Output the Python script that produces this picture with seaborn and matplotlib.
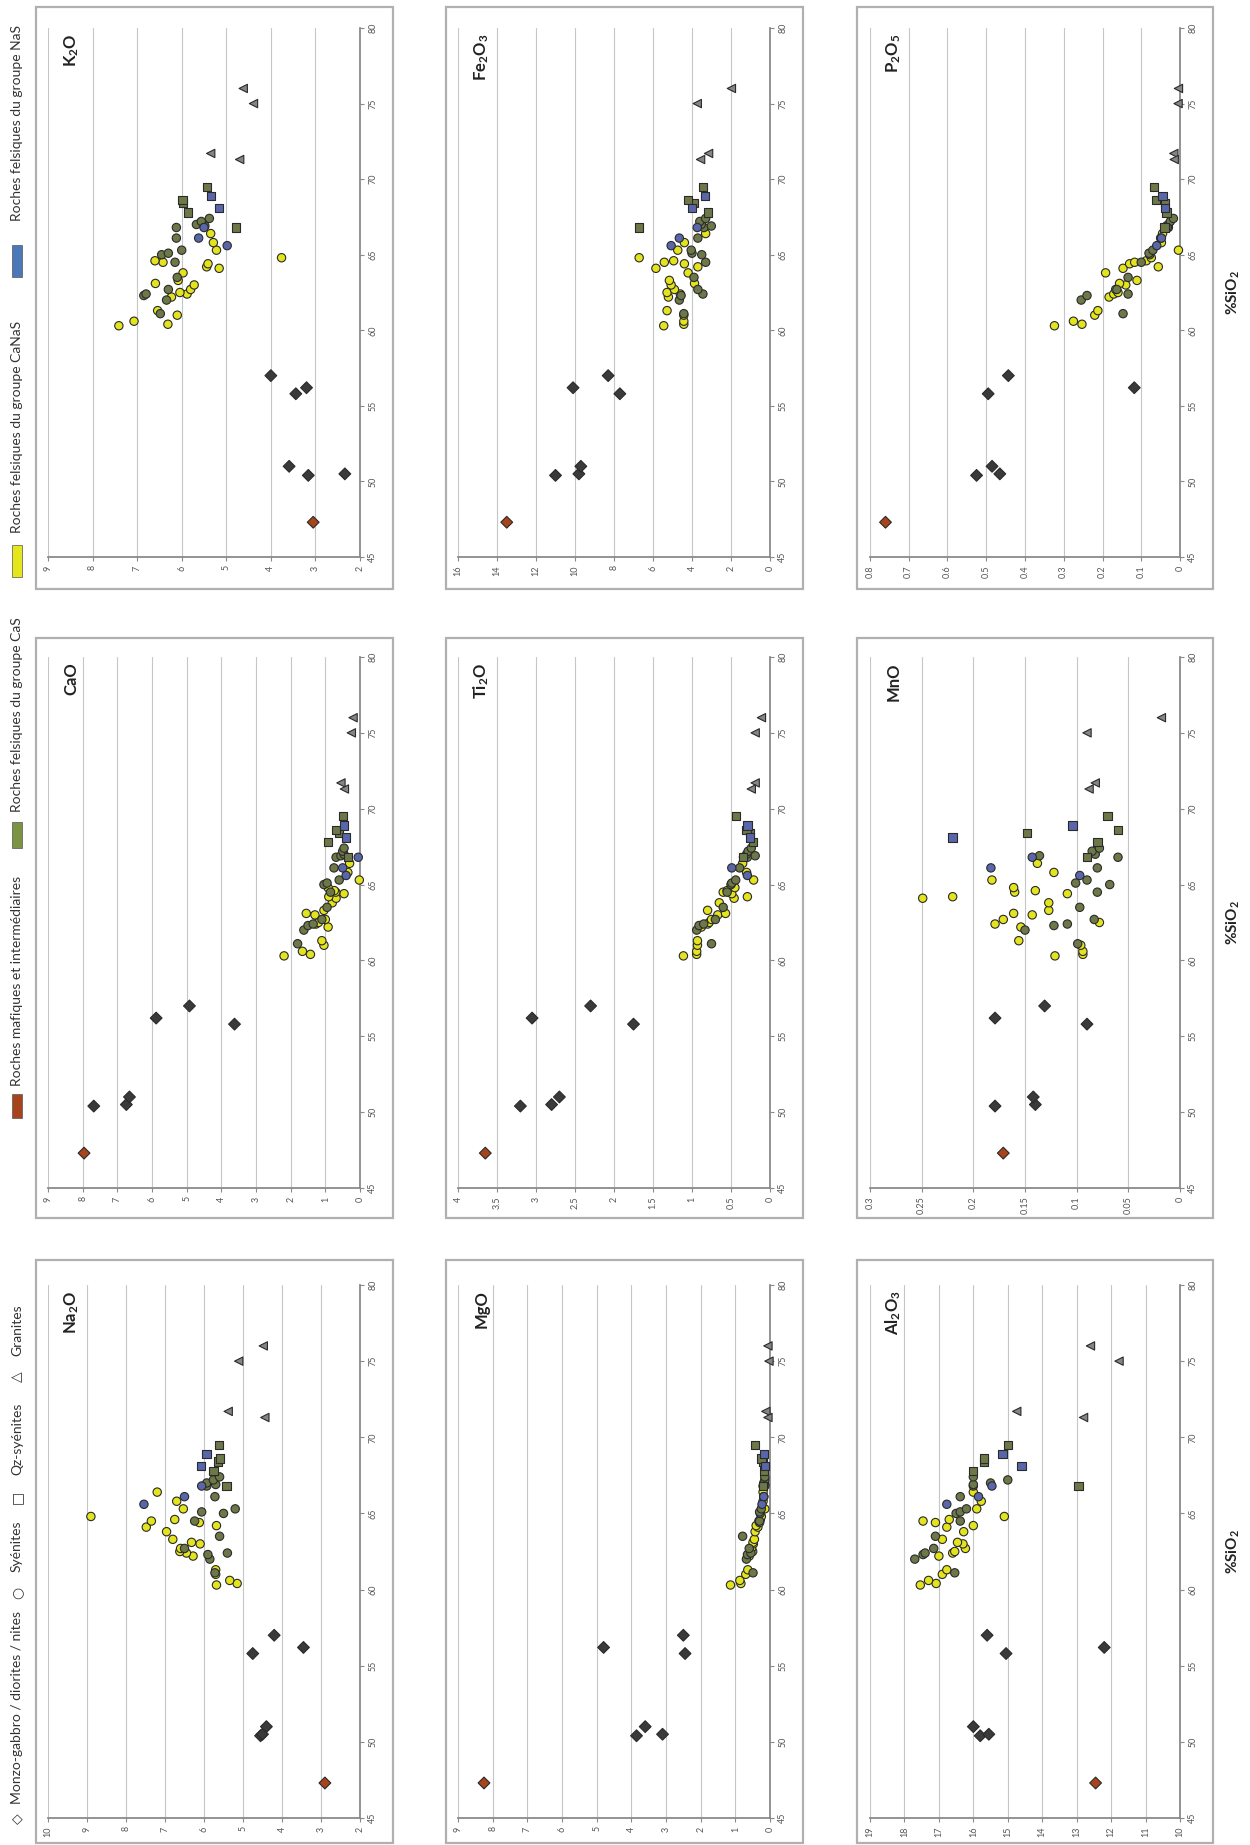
import numpy as np
import pandas as pd
import seaborn as sns
import matplotlib.pyplot as plt
from matplotlib.patches import Rectangle
from matplotlib.ticker import FuncFormatter, MultipleLocator

# ---- data ----
# sample order: 7 mafic, 4 granites, 22 yellow syenites, 16 green syenites,
# 3 blue syenites, 5 green qz-syenites, 2 blue qz-syenites
sio2 = [47.3, 50.4, 50.5, 51.0, 55.8, 56.2, 57.0,
        76.0, 75.0, 71.7, 71.3,
        60.3, 60.4, 60.6, 61.0, 61.3, 62.2, 62.4, 62.5, 62.7, 63.0, 63.1,
        63.3, 63.8, 64.1, 64.2, 64.4, 64.5, 64.6, 64.8, 65.3, 65.8, 66.4,
        61.1, 62.0, 62.3, 62.4, 62.7, 63.5, 64.5, 65.0, 65.1, 65.3, 66.1,
        66.8, 66.9, 67.0, 67.2, 67.4,
        65.6, 66.1, 66.8,
        66.8, 67.8, 68.4, 68.6, 69.5,
        68.1, 68.9]
rock = ["diorite"] * 7 + ["granite"] * 4 + ["syenite"] * 41 + ["qz"] * 7
group = (["maf_r"] + ["maf"] * 6 + ["gra"] * 4 + ["CaNaS"] * 22 + ["CaS"] * 16
         + ["NaS"] * 3 + ["CaS"] * 5 + ["NaS"] * 2)

k2o = [3.05, 3.16, 2.34, 3.59, 3.44, 3.2, 4.0,
       4.62, 4.39, 5.35, 4.7,
       7.41, 6.31, 7.07, 6.1, 6.54, 6.23, 5.88, 6.04, 5.8, 5.72, 6.59,
       6.08, 5.97, 5.16, 5.44, 5.41, 6.42, 6.6, 3.76, 5.22, 5.29, 5.35,
       6.48, 6.34, 6.85, 6.8, 6.3, 6.1, 6.15, 6.45, 6.3, 6.0, 6.12,
       6.12, 5.48, 5.67, 5.56, 5.38,
       4.98, 5.62, 5.5,
       4.78, 5.86, 5.97, 5.98, 5.43,
       5.17, 5.35]
na2o = [2.9, 4.55, 4.5, 4.4, 4.75, 3.45, 4.2,
        4.48, 5.11, 5.38, 4.44,
        5.68, 5.15, 5.34, 5.7, 5.7, 6.28, 6.45, 6.62, 6.6, 6.1, 6.32,
        6.8, 6.96, 7.48, 5.68, 6.12, 7.35, 6.75, 8.9, 6.53, 6.7, 7.2,
        5.72, 5.85, 5.9, 5.4, 6.5, 5.6, 6.24, 5.5, 6.06, 5.2, 5.72,
        5.93, 5.7, 5.93, 5.76, 5.6,
        7.54, 6.5, 6.06,
        5.42, 5.76, 5.64, 5.59, 5.62,
        6.08, 5.94]
cao = [7.96, 7.68, 6.74, 6.65, 3.62, 5.88, 4.92,
       0.2, 0.25, 0.55, 0.45,
       2.19, 1.43, 1.66, 1.04, 1.1, 0.92, 1.27, 1.2, 1.0, 1.3, 1.55,
       1.04, 0.8, 0.69, 0.9, 0.46, 0.7, 0.74, 0.92, 0.02, 0.35, 0.3,
       1.8, 1.62, 1.5, 1.35, 1.1, 0.95, 0.85, 1.04, 0.95, 0.6, 0.75,
       0.69, 0.55, 0.46, 0.5, 0.46,
       0.4, 0.5, 0.05,
       0.35, 0.92, 0.6, 0.69, 0.5,
       0.41, 0.46]
mgo = [8.25, 3.85, 3.1, 3.6, 2.45, 4.8, 2.5,
       0.06, 0.03, 0.12, 0.06,
       1.14, 0.84, 0.87, 0.7, 0.64, 0.6, 0.58, 0.5, 0.53, 0.48, 0.49,
       0.45, 0.43, 0.35, 0.4, 0.3, 0.32, 0.28, 0.25, 0.15, 0.2, 0.2,
       0.49, 0.68, 0.65, 0.55, 0.6, 0.79, 0.3, 0.28, 0.3, 0.25, 0.18,
       0.2, 0.15, 0.18, 0.15, 0.15,
       0.23, 0.18, 0.15,
       0.2, 0.18, 0.2, 0.25, 0.43,
       0.15, 0.18]
ti2o = [3.65, 3.2, 2.8, 2.7, 1.75, 3.05, 2.3,
        0.11, 0.19, 0.19, 0.24,
        1.11, 0.94, 0.94, 0.93, 0.93, 0.88, 0.8, 0.78, 0.75, 0.67, 0.57,
        0.8, 0.65, 0.46, 0.29, 0.49, 0.6, 0.55, 0.45, 0.21, 0.3, 0.35,
        0.75, 0.94, 0.91, 0.85, 0.7, 0.6, 0.55, 0.5, 0.49, 0.44, 0.39,
        0.29, 0.19, 0.3, 0.28, 0.24,
        0.29, 0.49, 0.34,
        0.35, 0.22, 0.26, 0.3, 0.44,
        0.26, 0.29]
fe2o3 = [13.5, 11.0, 9.8, 9.7, 7.7, 10.1, 8.3,
         1.98, 3.73, 3.15, 3.56,
         5.45, 4.42, 4.42, 4.42, 5.28, 5.21, 4.6, 5.28, 4.9, 5.07, 3.87,
         5.16, 4.2, 5.85, 3.7, 4.39, 5.42, 4.94, 6.71, 4.73, 4.39, 3.3,
         4.42, 4.65, 4.56, 3.44, 3.7, 3.9, 3.3, 3.5, 4.0, 4.04, 3.7,
         3.39, 3.01, 3.53, 3.6, 3.3,
         5.07, 4.65, 3.73,
         6.71, 3.18, 3.9, 4.2, 3.44,
         4.0, 3.35]
al2o3 = [12.45, 15.8, 15.55, 16.0, 15.05, 12.2, 15.6,
         12.6, 11.77, 14.74, 12.8,
         17.54, 17.08, 17.3, 16.9, 16.77, 17.0, 16.6, 16.54, 16.23, 16.3, 16.46,
         16.9, 16.28, 16.77, 16.0, 17.1, 17.46, 16.7, 15.1, 15.9, 15.77, 16.0,
         16.54, 17.7, 17.46, 17.4, 17.15, 17.1, 16.38, 16.5, 16.38, 16.2, 16.38,
         16.0, 16.0, 15.5, 15.0, 16.0,
         16.77, 15.85, 15.46,
         12.95, 16.0, 15.7, 15.7, 15.0,
         14.6, 15.15]
mno = [0.171, 0.179, 0.14, 0.142, 0.09, 0.179, 0.131,
       0.018, 0.09, 0.082, 0.088,
       0.121, 0.094, 0.094, 0.096, 0.156, 0.154, 0.179, 0.078, 0.171, 0.143, 0.161,
       0.127, 0.127, 0.249, 0.22, 0.109, 0.16, 0.14, 0.161, 0.182, 0.122, 0.138,
       0.099, 0.15, 0.122, 0.109, 0.083, 0.097, 0.08, 0.068, 0.101, 0.09, 0.08,
       0.06, 0.136, 0.082, 0.085, 0.078,
       0.097, 0.183, 0.143,
       0.09, 0.08, 0.148, 0.06, 0.07,
       0.22, 0.104]
p2o5 = [0.76, 0.525, 0.465, 0.485, 0.495, 0.118, 0.443,
        0.004, 0.005, 0.016, 0.015,
        0.324, 0.253, 0.275, 0.22, 0.212, 0.183, 0.171, 0.16, 0.166, 0.14, 0.156,
        0.111, 0.192, 0.147, 0.056, 0.13, 0.117, 0.087, 0.074, 0.004, 0.048, 0.045,
        0.147, 0.255, 0.24, 0.134, 0.163, 0.134, 0.1, 0.078, 0.08, 0.07, 0.05,
        0.03, 0.035, 0.03, 0.025, 0.017,
        0.06, 0.048, 0.033,
        0.04, 0.035, 0.039, 0.062, 0.067,
        0.039, 0.045]

legend_rocks = ["Monzo-gabbro / diorites / nites", "Syénites", "Qz-syénites", "Granites"]
legend_groups = ["Roches mafiques et intermédiaires", "Roches felsiques du groupe CaS",
                 "Roches felsiques du groupe CaNaS", "Roches felsiques du groupe NaS"]

df = pd.DataFrame({"SiO2": sio2, "rock": rock, "group": group,
                   "K2O": k2o, "Na2O": na2o, "CaO": cao, "MgO": mgo, "Ti2O": ti2o,
                   "Fe2O3": fe2o3, "Al2O3": al2o3, "MnO": mno, "P2O5": p2o5})

palette = {"maf": "#3a3a3a", "maf_r": "#a8441c", "gra": "#858585",
           "CaS": "#6d7848", "CaNaS": "#e4e41e", "NaS": "#5a66aa"}
markers = {"diorite": "D", "syenite": "o", "qz": "s", "granite": "<"}

sns.set_theme(style="white")
plt.rcParams["font.family"] = ["Lato", "DejaVu Sans"]
plt.rcParams["mathtext.fontset"] = "custom"
plt.rcParams["mathtext.rm"] = "Lato"
plt.rcParams["mathtext.bf"] = "Lato:bold"
plt.rcParams["mathtext.default"] = "bf"

W, H = 1250, 1845
fig = plt.figure(figsize=(W / 100, H / 100), dpi=100)
fig.patch.set_facecolor("white")


def rect(x0, y0, x1, y1):
    return [x0 / W, 1 - y1 / H, (x1 - x0) / W, (y1 - y0) / H]


col_px = [(48, 360), (458, 770), (870, 1180)]
row_px = [(28, 557), (657, 1188), (1285, 1818)]
frame_x = [(36, 393), (446, 803), (857, 1213)]
frame_y = [(7, 589), (638, 1218), (1260, 1843)]

# (column, title, col, row, lo, hi, step)
panels = [("K2O", r"K$_2$O", 0, 0, 2, 9, 1),
          ("CaO", "CaO", 0, 1, 0, 9, 1),
          ("Na2O", r"Na$_2$O", 0, 2, 2, 10, 1),
          ("Fe2O3", r"Fe$_2$O$_3$", 1, 0, 0, 16, 2),
          ("Ti2O", r"Ti$_2$O", 1, 1, 0, 4, 0.5),
          ("MgO", "MgO", 1, 2, 0, 9, 1),
          ("P2O5", r"P$_2$O$_5$", 2, 0, 0, 0.8, 0.1),
          ("MnO", "MnO", 2, 1, 0, 0.3, 0.05),
          ("Al2O3", r"Al$_2$O$_3$", 2, 2, 10, 19, 1)]

for col, title, c, r, lo, hi, step in panels:
    fx, fy = frame_x[c], frame_y[r]
    fig.add_artist(Rectangle((fx[0] / W, 1 - fy[1] / H), (fx[1] - fx[0]) / W,
                             (fy[1] - fy[0]) / H, transform=fig.transFigure,
                             fill=False, ec="#b0b0b0", lw=1.6))
    ax = fig.add_axes(rect(col_px[c][0], row_px[r][0], col_px[c][1], row_px[r][1]))
    sns.scatterplot(data=df, x=col, y="SiO2", hue="group", style="rock",
                    palette=palette, markers=markers, s=36, edgecolor="#2a2a2a",
                    linewidth=0.8, legend=False, ax=ax, zorder=3, clip_on=False)
    ax.set_xlim(hi, lo)
    ax.set_ylim(45, 80)
    ax.xaxis.set_major_locator(MultipleLocator(step))
    ax.yaxis.set_major_locator(MultipleLocator(5))
    ax.xaxis.set_major_formatter(FuncFormatter(lambda v, p: f"{round(v, 3):g}"))
    ax.yaxis.tick_right()
    ax.grid(axis="x", color="#c6c6c6", lw=0.8)
    ax.grid(axis="y", visible=False)
    ax.set_axisbelow(True)
    for s in ["top", "left"]:
        ax.spines[s].set_visible(False)
    for s in ["bottom", "right"]:
        ax.spines[s].set_color("#8a8a8a")
        ax.spines[s].set_linewidth(1.3)
    ax.tick_params(axis="both", labelsize=6.5, labelcolor="#555555", color="#8a8a8a",
                   length=3, width=0.8, direction="out", pad=3)
    ax.tick_params(axis="x", labelrotation=90, bottom=True)
    ax.tick_params(axis="y", labelrotation=90, right=True, left=False)
    for lbl in ax.get_yticklabels():
        lbl.set_va("center")
    ax.set_xlabel("")
    ax.set_ylabel("")
    ax.text(0.075, 0.99, title, transform=ax.transAxes, rotation=90,
            ha="center", va="top", fontsize=12, fontweight="bold", color="#222222")
    if c == 2:
        fig.text(1233 / W, 1 - (row_px[r][0] + row_px[r][1]) / 2 / H, r"%SiO$_2$",
                 rotation=90, ha="center", va="center", fontsize=11,
                 fontweight="bold", color="#222222")

# ---- legend strip (reads bottom to top) ----
lx = 17 / W
sym_pos = [1819, 1593, 1497, 1377]
sym_txt = ["◇", "○", "□", "△"]
rock_start = [1804, 1572, 1475, 1356]
for y, sym in zip(sym_pos, sym_txt):
    fig.text(lx, 1 - y / H, sym, rotation=90, ha="center", va="center",
             fontsize=10, family=["DejaVu Sans"], color="#333333")
for y, txt in zip(rock_start, legend_rocks):
    fig.text(lx, 1 - y / H, txt, rotation=90, ha="center", va="bottom",
             fontsize=10, color="#333333")

sw_colors = ["#a8441c", "#7b9443", "#e6e61c", "#4a78b8"]
sw_pos = [(1094, 1118), (822, 848), (545, 577), (245, 277)]
grp_start = [1086, 812, 533, 221]
for (y0, y1), colr in zip(sw_pos, sw_colors):
    fig.add_artist(Rectangle((12 / W, 1 - y1 / H), 10 / W, (y1 - y0) / H,
                             transform=fig.transFigure, fc=colr, ec="#555555", lw=0.5))
for y, txt in zip(grp_start, legend_groups):
    fig.text(lx, 1 - y / H, txt, rotation=90, ha="center", va="bottom",
             fontsize=10, color="#333333")

fig.savefig("out.png", dpi=100, facecolor="white")
